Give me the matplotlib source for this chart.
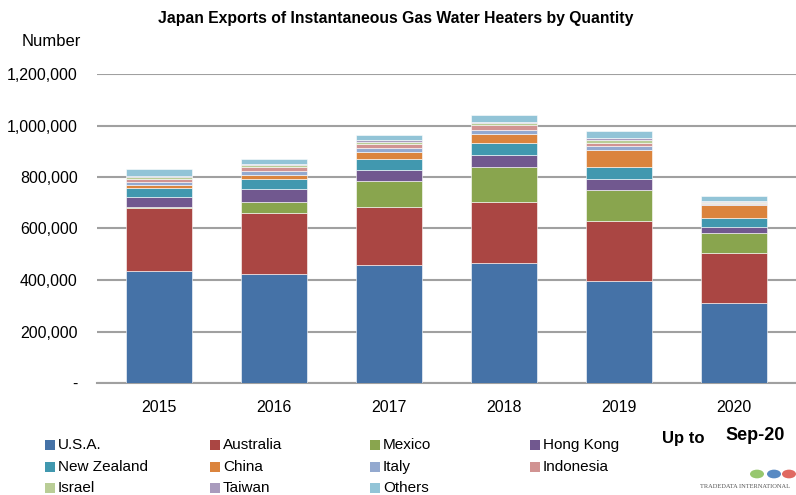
import matplotlib
matplotlib.use("Agg")
import matplotlib.pyplot as plt
from matplotlib.patches import Rectangle, Circle
from matplotlib.ticker import FuncFormatter
import numpy as np

plt.rcParams['font.family'] = ['Liberation Sans', 'DejaVu Sans']

years = ["2015", "2016", "2017", "2018", "2019", "2020"]
countries = ["U.S.A.", "Australia", "Mexico", "Hong Kong", "New Zealand", "China",
             "Italy", "Indonesia", "Israel", "Taiwan", "Others"]
colors = ["#4572A7", "#AA4643", "#89A54E", "#71588F", "#4198AF", "#DB843D",
          "#93A9CF", "#D19392", "#B9CD96", "#A99BBD", "#92C4D7"]

usa         = [435000, 424000, 459000, 466000, 398000, 310000]
australia   = [245000, 237000, 224000, 236000, 231000, 193000]
mexico      = [3000, 43000, 102000, 138000, 119000, 78000]
hong_kong   = [41000, 51000, 42000, 44000, 43000, 26000]
new_zealand = [33000, 36000, 43000, 47000, 48000, 35000]
china       = [12000, 16000, 26000, 35000, 65000, 49000]
italy       = [13000, 17000, 17000, 17000, 18000, 3000]
indonesia   = [12000, 13000, 14000, 18000, 10000, 5000]
israel      = [6000, 8000, 8000, 7000, 11000, 5000]
taiwan      = [5000, 6000, 7000, 4000, 8000, 4000]
others      = [26000, 19000, 22000, 27000, 26000, 20000]

series = [usa, australia, mexico, hong_kong, new_zealand, china,
          italy, indonesia, israel, taiwan, others]

W, H = 796, 495
fig = plt.figure(figsize=(W / 100, H / 100), dpi=100)
ax = fig.add_axes([97 / W, (H - 383) / H, 699 / W, 309 / H])

x = np.arange(len(years))
bottom = np.zeros(len(years))
for vals, col in zip(series, colors):
    v = np.array(vals, dtype=float)
    ax.bar(x, v, width=0.574, bottom=bottom, color=col, edgecolor="#FFFFFF",
           linewidth=0.4, zorder=3)
    bottom += v

ax.set_xlim(-0.54, 5.54)
ax.set_ylim(0, 1200000)
ax.set_yticks(np.arange(0, 1200001, 200000))
ax.yaxis.set_major_formatter(FuncFormatter(lambda v, p: "-" if v == 0 else f"{int(v):,}"))
ax.set_xticks(x)
ax.set_xticklabels(years)
ax.tick_params(axis="both", length=0, labelsize=11.5, colors="#000000")
ax.tick_params(axis="x", pad=12)
ax.tick_params(axis="y", pad=14)
ax.grid(axis="y", color="#A0A0A0", linewidth=1.5, zorder=0)
for s in ["left", "right", "top"]:
    ax.spines[s].set_visible(False)
ax.spines["bottom"].set_color("#A0A0A0")
ax.spines["bottom"].set_linewidth(1.5)

fig.text(396 / W, 1 - 18 / H, "Japan Exports of Instantaneous Gas Water Heaters by Quantity",
         ha="center", va="center", fontsize=11.3, fontweight="bold")
fig.text(22 / W, 1 - 42 / H, "Number", ha="left", va="center", fontsize=12)

# legend (row-major)
col_x = [45, 210, 370, 530]
row_y = [445, 467, 488]
for i, (name, col) in enumerate(zip(countries, colors)):
    r, c = divmod(i, 4)
    px, py = col_x[c], row_y[r]
    fig.add_artist(Rectangle((px / W, 1 - (py + 5) / H), 10 / W, 10 / H,
                             transform=fig.transFigure, facecolor=col, edgecolor="none"))
    fig.text((px + 13) / W, 1 - py / H, name, ha="left", va="center", fontsize=11)

fig.text(662 / W, 1 - 438 / H, "Up to", ha="left", va="center", fontsize=12, fontweight="bold")
fig.text(725 / W, 1 - 436 / H, "Sep-20", ha="left", va="center", fontsize=13, fontweight="bold")

# logo
for cx, cc in [(757, "#7DBA4A"), (774, "#2F6DB5"), (789, "#D9443A")]:
    fig.add_artist(Circle((cx / W, 1 - 474 / H), 7 / W, transform=fig.transFigure,
                          facecolor=cc, edgecolor="none", alpha=0.8))
fig.text(700 / W, 1 - 487 / H, "TRADEDATA INTERNATIONAL", ha="left", va="center",
         fontsize=4.6, family=["Liberation Serif", "DejaVu Serif"], color="#555555")

fig.savefig("out.png", dpi=100)
